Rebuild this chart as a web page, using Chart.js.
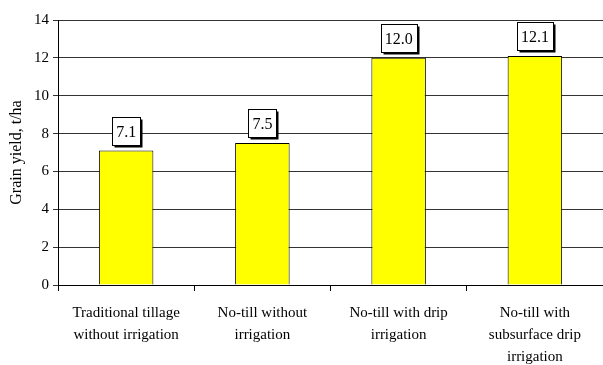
<!DOCTYPE html>
<html>
<head>
<meta charset="utf-8">
<script src="https://cdn.jsdelivr.net/npm/chart.js@4/dist/chart.umd.min.js"></script>
<style>
  html, body { margin: 0; padding: 0; background: #fff; }
  #wrap { width: 603px; height: 365px; }
</style>
</head>
<body>
<div id="wrap"><canvas id="c" width="603" height="365"></canvas></div>
<script>
// Tillage / irrigation treatments (multi-line labels)
const categories = [
  ['Traditional tillage', 'without irrigation'],
  ['No-till without', 'irrigation'],
  ['No-till with drip', 'irrigation'],
  ['No-till with', 'subsurface drip', 'irrigation']
];
// Grain yield, t/ha
const grainYield = [7.1, 7.5, 12.0, 12.1];
const yTicks = [0, 2, 4, 6, 8, 10, 12, 14];

const SERIF = "'Liberation Serif', 'Times New Roman', serif";

// Boxed value labels with a drop shadow above each bar
const boxedLabels = {
  id: 'boxedLabels',
  afterDatasetsDraw(chart) {
    const ctx = chart.ctx;
    const meta = chart.getDatasetMeta(0);
    ctx.save();
    ctx.font = '16px ' + SERIF;
    ctx.textAlign = 'center';
    ctx.textBaseline = 'middle';
    meta.data.forEach((bar, i) => {
      const txt = grainYield[i].toFixed(1);
      const w = Math.round(ctx.measureText(txt).width) + 8;
      const h = 28;
      const x = Math.round(bar.x - w / 2) + 0.5;
      const y = Math.round(bar.y - 6 - h) + 0.5;
      ctx.fillStyle = '#000';
      ctx.fillRect(x + 2, y + 2, w, h);
      ctx.fillStyle = '#fff';
      ctx.fillRect(x, y, w, h);
      ctx.strokeStyle = '#000';
      ctx.lineWidth = 1;
      ctx.strokeRect(x, y, w, h);
      ctx.fillStyle = '#000';
      ctx.fillText(txt, bar.x, y + h / 2 + 1);
    });
    ctx.restore();
  }
};

new Chart(document.getElementById('c'), {
  type: 'bar',
  data: {
    labels: categories,
    datasets: [{
      data: grainYield,
      backgroundColor: '#ffff00',
      borderColor: '#000000',
      borderWidth: 1,
      borderSkipped: 'bottom',
      categoryPercentage: 1.0,
      barPercentage: 0.4
    }]
  },
  options: {
    responsive: false,
    animation: false,
    devicePixelRatio: 1,
    layout: { padding: { top: 20, right: 0, left: 0, bottom: 0 } },
    plugins: {
      legend: { display: false },
      tooltip: { enabled: false }
    },
    scales: {
      x: {
        offset: true,
        grid: {
          offset: true,
          drawOnChartArea: false,
          drawTicks: true,
          tickLength: 6,
          color: '#000'
        },
        border: { display: true, color: '#000', width: 1 },
        ticks: {
          color: '#000',
          font: { family: SERIF, size: 15, lineHeight: 1.47 },
          maxRotation: 0,
          autoSkip: false,
          padding: 11
        },
        afterFit(axis) { axis.height = 80; }
      },
      y: {
        min: 0,
        max: 14,
        afterBuildTicks(axis) { axis.ticks = yTicks.map(v => ({ value: v })); },
        grid: {
          color: '#333',
          drawTicks: true,
          tickLength: 5
        },
        border: { display: true, color: '#000', width: 1 },
        ticks: {
          color: '#000',
          font: { family: SERIF, size: 15 },
          padding: 4
        },
        title: {
          display: true,
          text: 'Grain yield, t/ha',
          color: '#000',
          font: { family: SERIF, size: 16 },
          padding: { top: 7, bottom: 4 }
        },
        afterFit(axis) { axis.width = 58; }
      }
    }
  },
  plugins: [boxedLabels]
});
</script>
</body>
</html>
